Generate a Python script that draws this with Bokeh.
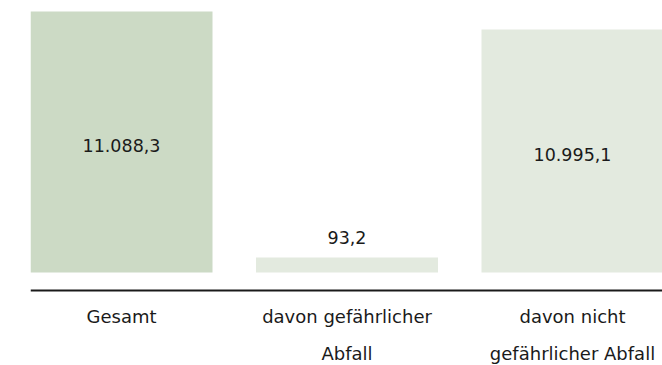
from bokeh.plotting import figure
from bokeh.models import ColumnDataSource, Range1d, Span
from bokeh.core.properties import value
from bokeh.embed import file_html
from bokeh.resources import INLINE

# ---- data ----
categories = ["Gesamt", "davon gefährlicher Abfall", "davon nicht gefährlicher Abfall"]
tick_labels = ["Gesamt", "davon gefährlicher\nAbfall", "davon nicht\ngefährlicher Abfall"]
values = [11088.3, 93.2, 10995.1]
value_labels = ["11.088,3", "93,2", "10.995,1"]
# bar heights as drawn in the reference (the reference's bars are not to scale)
bar_heights = [11088.3, 640.0, 10320.0]
bar_colors = ["#ccdac5", "#e3eadf", "#e3eadf"]

# ---- layout ----
W, H = 662, 365
zero_px = 272.0          # screen y of value 0
top_px = 11.0            # screen y of the tallest bar top
k = (zero_px - top_px) / max(bar_heights)   # px per unit
y_start = -(H - zero_px) / k
y_end = zero_px / k

unit = 225.5             # px per category slot
first_center = 121.0
left_px = 30.0
x_start = -(first_center - left_px) / unit
x_end = (W - first_center) / unit

xs = list(range(len(categories)))

p = figure(
    x_range=Range1d(x_start, x_end),
    y_range=Range1d(y_start, y_end),
    width=W, height=H,
    min_border_left=int(left_px), min_border_right=0, min_border_top=0, min_border_bottom=0,
    toolbar_location=None, output_backend="svg",
    x_axis_location=None, y_axis_location=None,
)
p.outline_line_color = None
p.xgrid.visible = False
p.ygrid.visible = False
p.background_fill_color = "white"
p.border_fill_color = "white"

src = ColumnDataSource(dict(x=xs, cat=categories, h=bar_heights, color=bar_colors))
p.vbar(x="x", top="h", width=182 / unit, source=src, fill_color="color", line_color=None)

# value labels: inside (middle) for tall bars, above for short bars
big = [h > 2000 for h in bar_heights]
in_src = ColumnDataSource(dict(
    x=[x for x, b in zip(xs, big) if b],
    y=[h / 2 for h, b in zip(bar_heights, big) if b],
    t=[t for t, b in zip(value_labels, big) if b],
))
out_src = ColumnDataSource(dict(
    x=[x for x, b in zip(xs, big) if not b],
    y=[h for h, b in zip(bar_heights, big) if not b],
    t=[t for t, b in zip(value_labels, big) if not b],
))
font = value("DejaVu Sans")
p.text(x="x", y="y", text="t", source=in_src, text_align="center", text_baseline="middle",
       y_offset=3, text_font=font, text_font_size="17.5px", text_color="#1a1a1a")
p.text(x="x", y="y", text="t", source=out_src, text_align="center", text_baseline="middle",
       y_offset=-20, text_font=font, text_font_size="17.5px", text_color="#1a1a1a")

# baseline rule
p.add_layout(Span(location=-(290 - zero_px) / k, dimension="width",
                  line_color="#1a1a1a", line_width=2))

# category labels
lab_src = ColumnDataSource(dict(x=xs, y=[0] * len(xs), t=tick_labels))
p.text(x="x", y="y", text="t", source=lab_src, text_align="center", text_baseline="top",
       y_offset=33, text_font=font, text_font_size="18px", text_color="#1a1a1a",
       text_line_height=1.8)

open("out.html", "w").write(file_html(p, INLINE))
